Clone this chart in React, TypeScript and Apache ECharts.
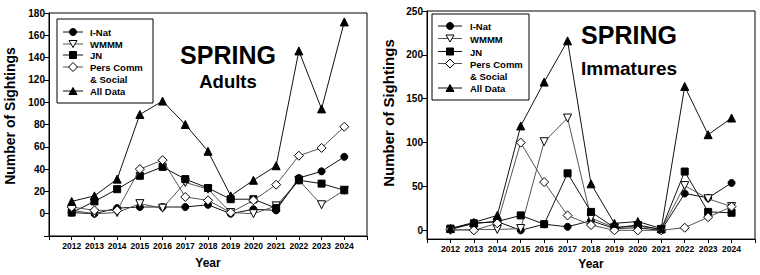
import React, { useEffect, useRef } from 'react';
import * as echarts from 'echarts';

// Survey years shown on both panels
const years = [2012, 2013, 2014, 2015, 2016, 2017, 2018, 2019, 2020, 2021, 2022, 2023, 2024];

// Source names (legend order)
const sourceNames = ['I-Nat', 'WMMM', 'JN', 'Pers Comm & Social', 'All Data'];
const legendLabels = ['I-Nat', 'WMMM', 'JN', 'Pers Comm\n& Social', 'All Data'];

// Spring adults
const adultsINat = [1, 0, 5, 6, 6, 6, 8, 0, 4, 3, 32, 38, 51];
const adultsWMMM = [3, 0, 1, 9, 5, 28, 22, 1, 0, 7, 30, 8, 21];
const adultsJN = [1, 11, 22, 34, 42, 31, 23, 13, 13, 5, 30, 27, 21];
const adultsPers = [6, 3, 3, 40, 48, 15, 12, 1, 12, 26, 52, 59, 78];
const adultsAll = [11, 16, 31, 89, 101, 80, 56, 16, 30, 43, 146, 94, 172];

// Spring immatures
const immINat = [1, 8, 10, 0, 7, 4, 11, 2, 3, 0, 42, 37, 54];
const immWMMM = [0, 1, 1, 2, 101, 128, 14, 3, 5, 1, 51, 36, 27];
const immJN = [2, 8, 10, 17, 7, 65, 21, 3, 6, 1, 67, 21, 20];
const immPers = [1, 0, 8, 100, 55, 17, 6, 0, 0, 0, 3, 15, 27];
const immAll = [2, 9, 17, 119, 169, 216, 53, 8, 10, 2, 164, 109, 128];

// Y tick values
const adultTicks = [0, 20, 40, 60, 80, 100, 120, 140, 160, 180];
const immTicks = [0, 50, 100, 150, 200, 250];

const FONT = '"Liberation Sans", Arial, sans-serif';
const INK = '#111';
const GREY = '#555';

type Kind = 'circle' | 'down' | 'square' | 'diamond' | 'triangle';
const kinds: Kind[] = ['circle', 'down', 'square', 'diamond', 'triangle'];
const filled = [true, false, true, false, true];
const lineColors = [INK, GREY, INK, GREY, INK];
const symbolSizes = [7, 8, 7, 9, 8];

function symbolFor(k: Kind) {
  if (k === 'circle') return { symbol: 'circle', symbolRotate: 0 };
  if (k === 'down') return { symbol: 'triangle', symbolRotate: 180 };
  if (k === 'square') return { symbol: 'rect', symbolRotate: 0 };
  if (k === 'diamond') return { symbol: 'diamond', symbolRotate: 0 };
  return { symbol: 'triangle', symbolRotate: 0 };
}

function makeSeries(values: number[][], axisIndex: number) {
  return values.map((vals, i) => ({
    type: 'line',
    name: sourceNames[i],
    xAxisIndex: axisIndex,
    yAxisIndex: axisIndex,
    data: vals.map((v, j) => [years[j], v]),
    ...symbolFor(kinds[i]),
    symbolSize: symbolSizes[i],
    showAllSymbol: true,
    lineStyle: { color: lineColors[i], width: 1 },
    itemStyle: {
      color: filled[i] ? '#000' : '#fff',
      borderColor: '#000',
      borderWidth: 1,
      opacity: 1,
    },
    z: 2 + i,
  }));
}

function markerGraphic(k: Kind, cx: number, cy: number, isFilled: boolean) {
  const style = { fill: isFilled ? '#000' : '#fff', stroke: '#000', lineWidth: 1 };
  if (k === 'circle') return { type: 'circle', shape: { cx, cy, r: 3.5 }, style };
  if (k === 'square') return { type: 'rect', shape: { x: cx - 3.5, y: cy - 3.5, width: 7, height: 7 }, style };
  if (k === 'down')
    return { type: 'polygon', shape: { points: [[cx - 4, cy - 3.5], [cx + 4, cy - 3.5], [cx, cy + 3.5]] }, style };
  if (k === 'diamond')
    return { type: 'polygon', shape: { points: [[cx, cy - 4.5], [cx + 4.5, cy], [cx, cy + 4.5], [cx - 4.5, cy]] }, style };
  return { type: 'polygon', shape: { points: [[cx - 4, cy + 3.5], [cx + 4, cy + 3.5], [cx, cy - 3.5]] }, style };
}

function legendBox(
  box: { x: number; y: number; w: number; h: number },
  rows: number[],
  lineX: [number, number],
  textX: number
) {
  const children: any[] = [
    {
      type: 'rect',
      shape: { x: box.x, y: box.y, width: box.w, height: box.h },
      style: { fill: '#fff', stroke: '#000', lineWidth: 1 },
    },
  ];
  legendLabels.forEach((label, i) => {
    const cy = rows[i];
    const mid = (lineX[0] + lineX[1]) / 2;
    children.push({
      type: 'line',
      shape: { x1: lineX[0], y1: cy, x2: lineX[1], y2: cy },
      style: { stroke: lineColors[i], lineWidth: 1 },
    });
    children.push(markerGraphic(kinds[i], mid, cy, filled[i]));
    children.push({
      type: 'text',
      x: textX,
      y: cy - 5.5,
      style: {
        text: label,
        fontFamily: FONT,
        fontWeight: 'bold',
        fontSize: 9.5,
        lineHeight: 12,
        fill: '#000',
        align: 'left',
        verticalAlign: 'top',
      },
    });
  });
  return { type: 'group', children, z: 10 };
}

function bigText(text: string, x: number, y: number, size: number) {
  return {
    type: 'text',
    x,
    y,
    z: 10,
    style: {
      text,
      fontFamily: FONT,
      fontWeight: 'bold',
      fontSize: size,
      fill: '#000',
      align: 'center',
      verticalAlign: 'middle',
    },
  };
}

function yTitle(x: number, y: number, size: number) {
  return {
    type: 'text',
    x,
    y,
    rotation: Math.PI / 2,
    z: 10,
    style: {
      text: 'Number of Sightings',
      fontFamily: FONT,
      fontWeight: 'bold',
      fontSize: size,
      fill: '#000',
      align: 'center',
      verticalAlign: 'middle',
    },
  };
}

function xAxisFor(gridIndex: number, nameGap: number) {
  return {
    type: 'value',
    gridIndex,
    min: 2011,
    max: 2025,
    interval: 1,
    name: 'Year',
    nameLocation: 'middle',
    nameGap,
    nameTextStyle: { fontFamily: FONT, fontWeight: 'bold', fontSize: 12, color: '#000' },
    axisLine: { show: true, onZero: false, lineStyle: { color: '#000', width: 1 } },
    axisTick: { show: true, inside: false, length: 4, lineStyle: { color: '#000' } },
    axisLabel: {
      margin: 5,
      fontFamily: FONT,
      fontWeight: 'bold',
      fontSize: 8.5,
      color: '#000',
      formatter: (v: number) => (years.includes(v) ? String(v) : ''),
    },
    splitLine: { show: false },
  };
}

const App: React.FC = () => {
  const ref = useRef<HTMLDivElement>(null);

  useEffect(() => {
    if (!ref.current) return;
    const chart = echarts.init(ref.current, undefined, { renderer: 'svg' });

    const yLabel = {
      fontFamily: FONT,
      fontWeight: 'bold',
      fontSize: 10,
      color: '#000',
      margin: 4,
    };

    chart.setOption({
      animation: false,
      backgroundColor: '#fff',
      grid: [
        { left: 49, top: 13, width: 318, height: 223, show: true, borderColor: '#000', borderWidth: 1, containLabel: false },
        { left: 427, top: 11, width: 328, height: 231, show: true, borderColor: '#000', borderWidth: 1, containLabel: false },
      ],
      xAxis: [xAxisFor(0, 21), xAxisFor(1, 18)],
      yAxis: [
        {
          type: 'value',
          gridIndex: 0,
          min: -20,
          max: 180,
          interval: 20,
          axisLine: { show: true, lineStyle: { color: '#000' } },
          axisTick: { show: true, length: 5, lineStyle: { color: '#000' } },
          axisLabel: {
            ...yLabel,
            formatter: (v: number) => (adultTicks.includes(v) ? String(v) : ''),
          },
          splitLine: { show: false },
        },
        {
          type: 'value',
          gridIndex: 1,
          min: -10,
          max: 250,
          axisLine: { show: true, lineStyle: { color: '#000' } },
          axisTick: { show: true, length: 5, lineStyle: { color: '#000' }, customValues: immTicks },
          axisLabel: { ...yLabel, customValues: immTicks },
          splitLine: { show: false },
        },
      ],
      series: [
        ...makeSeries([adultsINat, adultsWMMM, adultsJN, adultsPers, adultsAll], 0),
        ...makeSeries([immINat, immWMMM, immJN, immPers, immAll], 1),
      ],
      graphic: [
        legendBox({ x: 57, y: 19, w: 96, h: 84 }, [32, 44, 55, 67, 91], [63, 83], 90),
        legendBox({ x: 432, y: 14, w: 97, h: 86 }, [26, 38.5, 51.5, 63.5, 88], [438, 462], 470),
        bigText('SPRING', 228, 55, 25),
        bigText('Adults', 228, 81, 18.5),
        bigText('SPRING', 629, 35, 25),
        bigText('Immatures', 629, 68, 19),
        yTitle(10, 116, 14),
        yTitle(388, 113, 15),
      ],
    });

    return () => chart.dispose();
  }, []);

  return (
    <div
      ref={ref}
      style={{ position: 'fixed', left: 0, top: 0, width: 760, height: 275, background: '#fff' }}
    />
  );
};

export default App;
